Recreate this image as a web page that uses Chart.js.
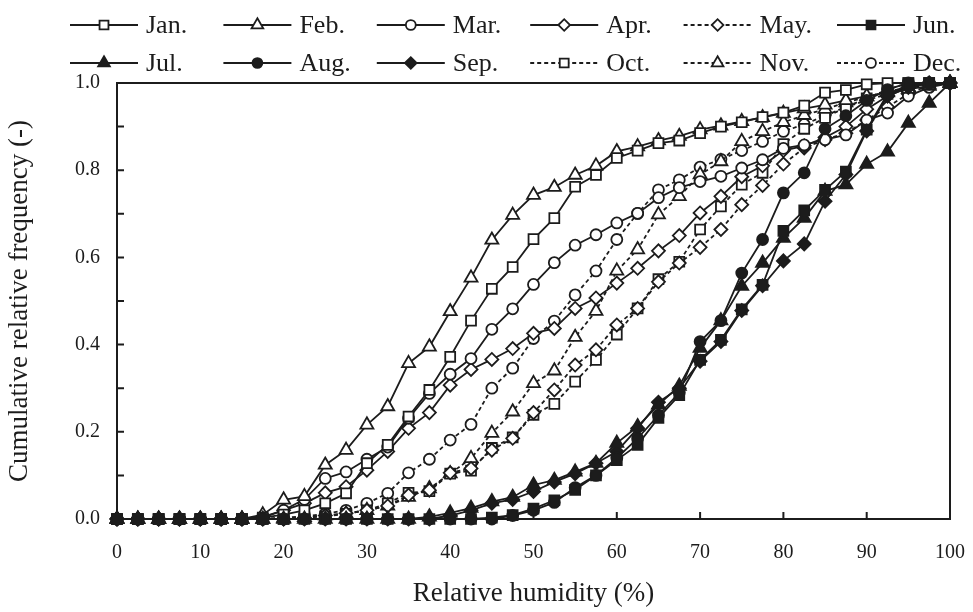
<!DOCTYPE html>
<html>
<head>
<meta charset="utf-8">
<script src="https://cdn.jsdelivr.net/npm/chart.js@4.4.0/dist/chart.umd.min.js"></script>
<style>
    html, body { margin: 0; padding: 0; background: #fff; }
    #wrap { width: 973px; height: 612px; }
</style>
</head>
<body>
<div id="wrap"><canvas id="rhChart" width="973" height="612"></canvas></div>
<script>
// Relative humidity classes (%)
const humidity = [0, 2.5, 5, 7.5, 10, 12.5, 15, 17.5, 20, 22.5, 25, 27.5, 30, 32.5, 35, 37.5, 40, 42.5, 45, 47.5,
    50, 52.5, 55, 57.5, 60, 62.5, 65, 67.5, 70, 72.5, 75, 77.5, 80, 82.5, 85, 87.5, 90, 92.5, 95, 97.5, 100];

// Cumulative relative frequency per month
const jan = [0, 0, 0, 0, 0, 0, 0, 0.003, 0.01, 0.02, 0.036, 0.059, 0.128, 0.17, 0.235, 0.296, 0.372, 0.455, 0.528, 0.578,
    0.642, 0.69, 0.762, 0.789, 0.828, 0.845, 0.862, 0.868, 0.885, 0.9, 0.91, 0.922, 0.932, 0.948, 0.978, 0.984, 0.997, 1.0, 1.0, 1.0, 1.0];
const feb = [0, 0, 0, 0, 0, 0, 0, 0.01, 0.044, 0.052, 0.124, 0.158, 0.216, 0.258, 0.357, 0.395, 0.476, 0.553, 0.64, 0.697,
    0.743, 0.761, 0.789, 0.81, 0.843, 0.854, 0.868, 0.878, 0.893, 0.902, 0.912, 0.921, 0.931, 0.941, 0.95, 0.96, 0.97, 0.978, 0.986, 0.993, 1.0];
const mar = [0, 0, 0, 0, 0, 0, 0, 0.005, 0.02, 0.045, 0.093, 0.108, 0.137, 0.165, 0.231, 0.288, 0.332, 0.368, 0.435, 0.482,
    0.538, 0.588, 0.628, 0.652, 0.679, 0.701, 0.737, 0.76, 0.774, 0.786, 0.805, 0.824, 0.85, 0.858, 0.87, 0.881, 0.915, 0.931, 0.97, 0.99, 1.0];
const apr = [0, 0, 0, 0, 0, 0, 0, 0.003, 0.02, 0.036, 0.06, 0.074, 0.112, 0.155, 0.208, 0.244, 0.307, 0.343, 0.366, 0.391,
    0.426, 0.437, 0.483, 0.507, 0.541, 0.575, 0.615, 0.65, 0.702, 0.74, 0.785, 0.81, 0.845, 0.856, 0.875, 0.9, 0.94, 0.97, 0.99, 1.0, 1.0];
const may = [0, 0, 0, 0, 0, 0, 0, 0, 0, 0.003, 0.008, 0.013, 0.02, 0.03, 0.055, 0.066, 0.106, 0.116, 0.158, 0.185,
    0.244, 0.296, 0.353, 0.388, 0.445, 0.483, 0.544, 0.587, 0.623, 0.664, 0.721, 0.765, 0.814, 0.851, 0.87, 0.885, 0.915, 0.945, 0.975, 0.995, 1.0];
const jun = [0, 0, 0, 0, 0, 0, 0, 0, 0, 0, 0, 0, 0, 0, 0, 0, 0, 0, 0.003, 0.009,
    0.024, 0.043, 0.067, 0.1, 0.135, 0.17, 0.232, 0.284, 0.365, 0.411, 0.481, 0.537, 0.661, 0.708, 0.755, 0.797, 0.893, 0.975, 0.995, 1.0, 1.0];
const jul = [0, 0, 0, 0, 0, 0, 0, 0, 0, 0, 0, 0, 0, 0, 0, 0.005, 0.014, 0.025, 0.04, 0.05,
    0.078, 0.089, 0.108, 0.128, 0.174, 0.212, 0.262, 0.305, 0.392, 0.455, 0.534, 0.587, 0.644, 0.69, 0.752, 0.767, 0.814, 0.842, 0.908, 0.954, 1.0];
const aug = [0, 0, 0, 0, 0, 0, 0, 0, 0, 0, 0, 0, 0, 0, 0, 0, 0, 0, 0, 0.008,
    0.02, 0.038, 0.072, 0.1, 0.14, 0.185, 0.238, 0.29, 0.407, 0.455, 0.564, 0.641, 0.748, 0.794, 0.895, 0.925, 0.96, 0.985, 1.0, 1.0, 1.0];
const sep = [0, 0, 0, 0, 0, 0, 0, 0, 0, 0, 0, 0, 0, 0, 0, 0, 0.008, 0.02, 0.036, 0.045,
    0.063, 0.085, 0.104, 0.128, 0.155, 0.208, 0.268, 0.3, 0.362, 0.407, 0.478, 0.535, 0.592, 0.631, 0.729, 0.79, 0.89, 0.97, 0.99, 1.0, 1.0];
const oct = [0, 0, 0, 0, 0, 0, 0, 0, 0, 0.003, 0.006, 0.012, 0.02, 0.036, 0.06, 0.064, 0.104, 0.111, 0.163, 0.187,
    0.239, 0.264, 0.315, 0.365, 0.423, 0.483, 0.55, 0.59, 0.664, 0.717, 0.767, 0.794, 0.86, 0.895, 0.92, 0.945, 0.965, 0.985, 1.0, 1.0, 1.0];
const nov = [0, 0, 0, 0, 0, 0, 0, 0, 0.002, 0.004, 0.008, 0.012, 0.02, 0.03, 0.05, 0.07, 0.104, 0.139, 0.197, 0.246,
    0.311, 0.34, 0.417, 0.477, 0.569, 0.618, 0.698, 0.74, 0.79, 0.82, 0.866, 0.889, 0.91, 0.926, 0.94, 0.955, 0.968, 0.98, 0.99, 0.996, 1.0];
const dec = [0, 0, 0, 0, 0, 0, 0, 0, 0.003, 0.006, 0.012, 0.02, 0.036, 0.059, 0.106, 0.137, 0.181, 0.217, 0.3, 0.346,
    0.414, 0.454, 0.514, 0.569, 0.641, 0.701, 0.755, 0.778, 0.807, 0.825, 0.845, 0.866, 0.889, 0.905, 0.925, 0.945, 0.96, 0.975, 0.99, 1.0, 1.0];

const monthLabels = ['Jan.', 'Feb.', 'Mar.', 'Apr.', 'May.', 'Jun.', 'Jul.', 'Aug.', 'Sep.', 'Oct.', 'Nov.', 'Dec.'];
const monthValues = [jan, feb, mar, apr, may, jun, jul, aug, sep, oct, nov, dec];

const xTicks = [0, 10, 20, 30, 40, 50, 60, 70, 80, 90, 100];
const yTicks = [0, 0.2, 0.4, 0.6, 0.8, 1.0];

const INK = '#1c1c1c';
const FONT = "'Liberation Serif', 'DejaVu Serif', serif";

// marker look per month: shape, filled or open, dashed line or not
const markerStyle = [
    { shape: 'rect', fill: false, dash: false },
    { shape: 'triangle', fill: false, dash: false },
    { shape: 'circle', fill: false, dash: false },
    { shape: 'rectRot', fill: false, dash: false },
    { shape: 'rectRot', fill: false, dash: true },
    { shape: 'rect', fill: true, dash: false },
    { shape: 'triangle', fill: true, dash: false },
    { shape: 'circle', fill: true, dash: false },
    { shape: 'rectRot', fill: true, dash: false },
    { shape: 'rect', fill: false, dash: true },
    { shape: 'triangle', fill: false, dash: true },
    { shape: 'circle', fill: false, dash: true }
];

const radiusFor = { rect: 7, triangle: 7.5, circle: 5.5, rectRot: 6.5 };

const datasets = monthValues.map((values, i) => {
    const st = markerStyle[i];
    return {
        label: monthLabels[i],
        data: values.map((v, j) => ({ x: humidity[j], y: v })),
        borderColor: INK,
        borderWidth: 1.8,
        borderDash: st.dash ? [4, 3] : [],
        pointStyle: st.shape,
        pointRadius: radiusFor[st.shape],
        pointBorderWidth: 1.8,
        pointBorderColor: INK,
        pointBackgroundColor: st.fill ? INK : '#ffffff',
        tension: 0,
        clip: false,
        order: st.fill ? 0 : 1
    };
});

// Simple marker painter for the legend
function paintMarker(ctx, shape, x, y, r, filled) {
    ctx.beginPath();
    if (shape === 'rect') {
        const s = Math.SQRT1_2 * r;
        ctx.rect(x - s, y - s, 2 * s, 2 * s);
    } else if (shape === 'circle') {
        ctx.arc(x, y, r, 0, Math.PI * 2);
    } else if (shape === 'triangle') {
        for (let k = 0; k < 3; k++) {
            const a = k * 2 * Math.PI / 3;
            const px = x + Math.sin(a) * r;
            const py = y - Math.cos(a) * r;
            if (k === 0) ctx.moveTo(px, py); else ctx.lineTo(px, py);
        }
        ctx.closePath();
    } else {
        ctx.moveTo(x - r, y);
        ctx.lineTo(x, y - r);
        ctx.lineTo(x + r, y);
        ctx.lineTo(x, y + r);
        ctx.closePath();
    }
    ctx.fillStyle = filled ? INK : '#ffffff';
    ctx.fill();
    ctx.stroke();
}

// Legend: two rows of six, line + marker + label
const legendPlugin = {
    id: 'monthLegend',
    afterDraw(chart) {
        const ctx = chart.ctx;
        ctx.save();
        ctx.strokeStyle = INK;
        ctx.lineWidth = 1.8;
        ctx.font = '26px ' + FONT;
        ctx.textBaseline = 'middle';
        ctx.fillStyle = INK;
        monthLabels.forEach((label, i) => {
            const st = markerStyle[i];
            const col = i % 6;
            const row = Math.floor(i / 6);
            const x0 = 70 + col * 153.4;
            const y0 = row === 0 ? 25 : 63;
            ctx.setLineDash(st.dash ? [4, 3] : []);
            ctx.beginPath();
            ctx.moveTo(x0, y0);
            ctx.lineTo(x0 + 68, y0);
            ctx.stroke();
            ctx.setLineDash([]);
            paintMarker(ctx, st.shape, x0 + 34, y0, radiusFor[st.shape] * 0.9, st.fill);
            ctx.fillStyle = INK;
            ctx.fillText(label, x0 + 76, y0 + 1);
        });
        ctx.restore();
    }
};

// Box round the plot with inward ticks
const framePlugin = {
    id: 'frameTicks',
    beforeDatasetsDraw(chart) {
        const { ctx, chartArea: a, scales } = chart;
        ctx.save();
        ctx.strokeStyle = INK;
        ctx.lineWidth = 2;
        ctx.strokeRect(a.left, a.top, a.right - a.left, a.bottom - a.top);
        ctx.beginPath();
        xTicks.forEach(v => {
            const px = scales.x.getPixelForValue(v);
            ctx.moveTo(px, a.bottom);
            ctx.lineTo(px, a.bottom - 7);
        });
        for (let k = 1; k < 10; k++) {
            const py = scales.y.getPixelForValue(k / 10);
            ctx.moveTo(a.left, py);
            ctx.lineTo(a.left + 7, py);
        }
        ctx.stroke();
        ctx.restore();
    }
};

new Chart(document.getElementById('rhChart'), {
    type: 'line',
    data: { datasets: datasets },
    options: {
        responsive: false,
        animation: false,
        layout: { padding: { top: 83, right: 23, left: 0, bottom: 0 } },
        plugins: {
            legend: { display: false },
            tooltip: { enabled: false }
        },
        scales: {
            x: {
                type: 'linear',
                min: 0,
                max: 100,
                afterFit: s => {
                    s.height = 93;
                    s.paddingLeft = 0;
                    s.paddingRight = 0;
                },
                afterBuildTicks: s => { s.ticks = xTicks.map(v => ({ value: v })); },
                grid: { display: false, drawTicks: false },
                border: { display: false },
                ticks: {
                    padding: 22,
                    color: INK,
                    font: { family: FONT, size: 20 },
                    maxRotation: 0
                },
                title: {
                    display: true,
                    text: 'Relative humidity (%)',
                    color: INK,
                    font: { family: FONT, size: 27 },
                    padding: { top: 0, bottom: 2 }
                }
            },
            y: {
                min: 0,
                max: 1,
                afterFit: s => {
                    s.width = 117;
                    s.paddingTop = 0;
                    s.paddingBottom = 0;
                },
                afterBuildTicks: s => { s.ticks = yTicks.map(v => ({ value: v })); },
                grid: { display: false, drawTicks: false },
                border: { display: false },
                ticks: {
                    padding: 17,
                    color: INK,
                    font: { family: FONT, size: 20 },
                    callback: v => Number(v).toFixed(1)
                },
                title: {
                    display: true,
                    text: 'Cumulative relative frequency (-)',
                    color: INK,
                    font: { family: FONT, size: 27 },
                    padding: { top: 4, bottom: 0 }
                }
            }
        }
    },
    plugins: [framePlugin, legendPlugin]
});
</script>
</body>
</html>
